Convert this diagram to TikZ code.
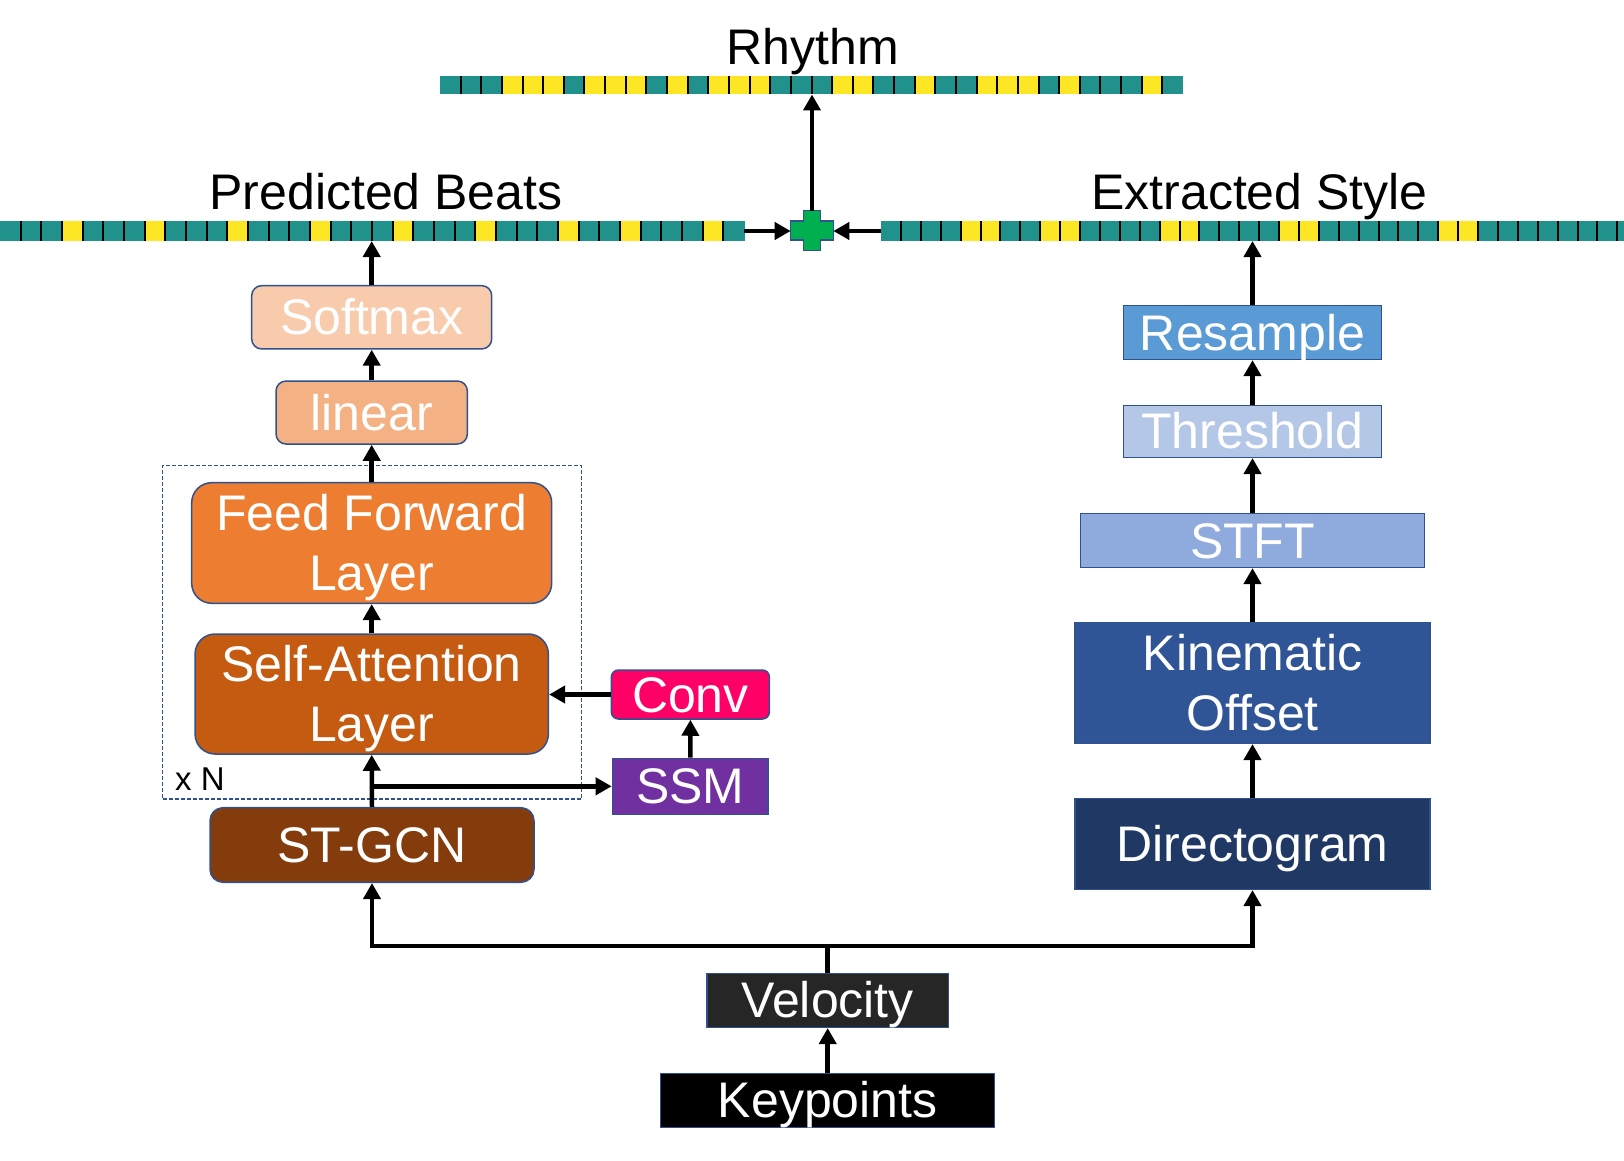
\documentclass[tikz,border=0pt]{standalone}
\usepackage{fontspec}
\setmainfont{Liberation Sans}
\usetikzlibrary{arrows.meta}
\definecolor{bt}{HTML}{21918C}
\definecolor{by}{HTML}{FDE725}
\definecolor{edgec}{HTML}{2F528F}
\definecolor{softmaxc}{HTML}{F8CBAD}
\definecolor{linearc}{HTML}{F4B183}
\definecolor{ffc}{HTML}{ED7D31}
\definecolor{sac}{HTML}{C55A11}
\definecolor{stgcnc}{HTML}{843C0C}
\definecolor{convc}{HTML}{FF0066}
\definecolor{ssmc}{HTML}{7030A0}
\definecolor{resc}{HTML}{5B9BD5}
\definecolor{thrc}{HTML}{B4C7E7}
\definecolor{stftc}{HTML}{8FAADC}
\definecolor{kinc}{HTML}{2F5597}
\definecolor{dirc}{HTML}{203864}
\definecolor{velc}{HTML}{262626}
\definecolor{plusc}{HTML}{00B050}
\newcommand\bigf{\fontsize{50}{60}\selectfont}
\newcommand\drawbeatstrip[5]{%
  \foreach \c [count=\i from 0] in {#5} {%
    \fill[\c] ({#1+\i*#3},#2) rectangle ++({#3+0.4},#4);
    \ifnum\i>0 \draw[line width=2pt,black] ({#1+\i*#3},#2) -- ++(0,#4);\fi
  }%
}
\begin{document}
\begin{tikzpicture}[x=1pt,y=-1pt,
  bx/.style={draw=edgec, line width=1.5pt, text=white, inner sep=0pt, font=\bigf,
             text height=35pt, text depth=0pt, align=center},
  two/.style={text height=95pt, text depth=0pt},
  arr/.style={line width=4.5pt, -{Triangle[length=16pt,width=17pt]}},
  strip/.style={inner sep=0pt, outer sep=0pt},
  lbl/.style={font=\bigf, text=black, anchor=base}]
\useasboundingbox (0,0) rectangle (1624,1161);

% ---- beat strips ----
\node[strip, minimum width=743pt, minimum height=18.5pt] (rhythm) at (811.5,85.25) {};
\node[strip, minimum width=744pt, minimum height=20pt] (pred) at (372,231) {};
\node[strip, minimum width=743pt, minimum height=20pt] (ext) at (1252.5,231) {};
\begin{scope}
\clip (0,0) rectangle (1624,1161);
\drawbeatstrip{440}{76}{20.64}{18.5}{bt,bt,bt,by,by,by,bt,by,by,by,bt,by,bt,by,by,by,bt,bt,bt,by,by,bt,bt,by,bt,bt,by,by,by,bt,by,bt,bt,bt,by,bt}
\drawbeatstrip{0}{221}{20.67}{20}{bt,bt,bt,by,bt,bt,bt,by,bt,bt,bt,by,bt,bt,bt,by,bt,bt,bt,by,bt,bt,bt,by,bt,bt,bt,by,bt,bt,by,bt,bt,bt,by,bt}
\drawbeatstrip{881}{221}{19.9}{20}{bt,bt,bt,bt,by,by,bt,bt,by,by,bt,bt,bt,bt,by,by,bt,bt,bt,bt,by,by,bt,bt,bt,bt,bt,bt,by,by,bt,bt,bt,bt,bt,bt,bt,bt}
\end{scope}

% ---- labels ----
\node[lbl] (rlbl) at (812.7,65) {Rhythm};
\node[lbl] (plbl) at (386,210) {Predicted Beats};
\node[lbl] (elbl) at (1259.5,210) {Extracted Style};

% ---- plus ----
\node[strip, minimum width=42.6pt, minimum height=40pt] (plus) at (812,230.5) {};
\begin{scope}[shift={(plus.center)}]
\draw[draw=edgec, fill=plusc, line width=1.5pt]
  (-8.7,-20) -- (8.7,-20) -- (8.7,-9.5) -- (21.3,-9.5) -- (21.3,9.5) -- (8.7,9.5)
  -- (8.7,20) -- (-8.7,20) -- (-8.7,9.5) -- (-21.3,9.5) -- (-21.3,-9.5) -- (-8.7,-9.5) -- cycle;
\end{scope}

% ---- repeated block frame ----
\node[draw=edgec, line width=1.2pt, dash pattern=on 4pt off 2pt, inner sep=0pt,
      minimum width=419pt, minimum height=333.3pt] (block) at (372.2,632.35) {};
\node[anchor=base west, font=\fontsize{33}{40}\selectfont] (xn) at (171.7,790) {x N};

% ---- left column ----
\node[bx, fill=softmaxc, rounded corners=10pt, minimum width=240pt, minimum height=63.3pt] (softmax) at (371.7,317.3) {Softmax};
\node[bx, fill=linearc, rounded corners=10pt, minimum width=191.3pt, minimum height=63pt] (linear) at (371.7,412.5) {linear};
\node[bx, two, fill=ffc, rounded corners=20pt, minimum width=360pt, minimum height=120.6pt] (ff) at (371.7,543) {Feed Forward\\Layer};
\node[bx, two, fill=sac, rounded corners=20pt, minimum width=353.3pt, minimum height=120pt] (sa) at (371.7,694) {Self-Attention\\Layer};
\node[bx, fill=stgcnc, rounded corners=13pt, minimum width=324pt, minimum height=74.6pt] (stgcn) at (372,845) {ST-GCN};
\node[bx, fill=convc, rounded corners=7pt, minimum width=158pt, minimum height=49pt] (conv) at (690.4,694.5) {Conv};
\node[bx, fill=ssmc, minimum width=155.8pt, minimum height=56pt] (ssm) at (690.3,786.3) {SSM};

% ---- right column ----
\node[bx, fill=resc, minimum width=257.7pt, minimum height=53.7pt] (res) at (1252.5,332.5) {Resample};
\node[bx, fill=thrc, minimum width=257.7pt, minimum height=52pt] (thr) at (1252.5,431.3) {Threshold};
\node[bx, fill=stftc, minimum width=343.6pt, minimum height=53.7pt] (stft) at (1252.5,540.5) {STFT};
\node[bx, two, fill=kinc, minimum width=355pt, minimum height=120.6pt] (kin) at (1252.5,683) {Kinematic\\Offset};
\node[bx, fill=dirc, minimum width=355pt, minimum height=90.6pt] (dir) at (1252.5,844) {Directogram};

% ---- bottom ----
\node[bx, fill=velc, minimum width=241.6pt, minimum height=54pt] (vel) at (827.7,1000.3) {Velocity};
\node[bx, fill=black, minimum width=334pt, minimum height=54pt] (key) at (827.7,1100.3) {Keypoints};

% ---- connectors ----
\coordinate (split) at (827.7,946);
\coordinate (br) at (372,786.3);
\draw[arr] (key.north) -- (vel.south);
\draw[arr] (vel.north) -- (split) -| (stgcn.south);
\draw[arr] (split) -| (dir.south);
\draw[arr] (stgcn.north) -- (sa.south);
\draw[arr] (br) -- (ssm.west);
\draw[arr] (ssm.north) -- (conv.south);
\draw[arr] (conv.west) -- (sa.east |- conv.west);
\draw[arr] (sa.north) -- (ff.south);
\draw[arr] (ff.north) -- (linear.south);
\draw[arr] (linear.north) -- (softmax.south);
\draw[arr] (softmax.north) -- (softmax.north |- pred.south);
\draw[arr] (dir.north) -- (kin.south);
\draw[arr] (kin.north) -- (stft.south);
\draw[arr] (stft.north) -- (thr.south);
\draw[arr] (thr.north) -- (res.south);
\draw[arr] (res.north) -- (res.north |- ext.south);
\draw[arr] (pred.east) -- (plus.west |- pred.east);
\draw[arr] (ext.west) -- (plus.east |- ext.west);
\draw[arr] (plus.north) -- (plus.north |- rhythm.south);
\end{tikzpicture}
\end{document}
